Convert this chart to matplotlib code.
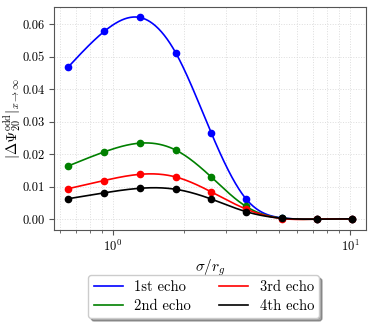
import numpy as np
import matplotlib
matplotlib.use("Agg")
import matplotlib.pyplot as plt

plt.rcParams["font.family"] = "serif"
plt.rcParams["font.serif"] = ["cmr10"]
plt.rcParams["mathtext.fontset"] = "cm"
plt.rcParams["axes.formatter.use_mathtext"] = True

# data
sigma = [0.65, 0.92, 1.3, 1.84, 2.6, 3.65, 5.15, 7.25, 10.2]
echo1 = [0.0469, 0.0578, 0.0621, 0.0513, 0.0266, 0.0062, 0.0004, 0.0000, 0.0001]
echo2 = [0.0164, 0.0207, 0.0234, 0.0213, 0.0130, 0.0039, 0.0003, 0.0000, 0.0001]
echo3 = [0.0094, 0.0119, 0.0138, 0.0130, 0.0084, 0.0031, 0.0002, 0.0000, 0.0001]
echo4 = [0.0063, 0.0081, 0.0095, 0.0092, 0.0062, 0.0023, 0.0003, 0.0000, 0.0001]
labels = ["1st echo", "2nd echo", "3rd echo", "4th echo"]
colors = ["blue", "green", "red", "black"]


def spline(x, y, xs):
    # natural cubic spline, used only to draw the smooth line through the points
    x = np.asarray(x, float)
    y = np.asarray(y, float)
    n = len(x)
    h = np.diff(x)
    A = np.zeros((n, n))
    b = np.zeros(n)
    A[0, 0] = A[-1, -1] = 1
    for i in range(1, n - 1):
        A[i, i - 1] = h[i - 1]
        A[i, i] = 2 * (h[i - 1] + h[i])
        A[i, i + 1] = h[i]
        b[i] = 6 * ((y[i + 1] - y[i]) / h[i] - (y[i] - y[i - 1]) / h[i - 1])
    M = np.linalg.solve(A, b)
    k = np.clip(np.searchsorted(x, xs) - 1, 0, n - 2)
    t1 = x[k + 1] - xs
    t2 = xs - x[k]
    hk = h[k]
    return (M[k] * t1**3 / (6 * hk) + M[k + 1] * t2**3 / (6 * hk)
            + (y[k] / hk - M[k] * hk / 6) * t1 + (y[k + 1] / hk - M[k + 1] * hk / 6) * t2)


fig = plt.figure(figsize=(3.74, 3.27), dpi=100)
ax = fig.add_axes([0.145, 0.298, 0.834, 0.681])

lx = np.log10(sigma)
xs = np.linspace(lx[0], lx[-1], 400)
for ys, lab, c in zip([echo1, echo2, echo3, echo4], labels, colors):
    ax.plot(10**xs, spline(lx, ys, xs), color=c, lw=1.2, label=lab)
    ax.plot(sigma, ys, "o", color=c, ms=4.5)

ax.set_xscale("log")
ax.grid(True, which="both", axis="x", ls=":", color="#dddddd", lw=0.7)
ax.grid(True, which="major", axis="y", ls=":", color="#dddddd", lw=0.7)
ax.set_yticks([0.0, 0.01, 0.02, 0.03, 0.04, 0.05, 0.06])
ax.set_yticklabels(["0.00", "0.01", "0.02", "0.03", "0.04", "0.05", "0.06"])
ax.tick_params(labelsize=9, color="#555555")
ax.tick_params(which="minor", color="#555555")
for s in ax.spines.values():
    s.set_color("#555555")
ax.set_xlabel(r"$\sigma/r_g$", fontsize=11, labelpad=2)
ax.set_ylabel(r"$|\Delta\Psi^{\rm odd}_{20}|_{x\to\infty}$", fontsize=10.5)
ax.yaxis.set_label_coords(-0.1, 0.5)

fig.legend(loc="upper center", bbox_to_anchor=(0.545, 0.18), ncol=2, fontsize=10.5,
           fancybox=True, shadow=True, columnspacing=1.9, handlelength=2.0,
           labelspacing=0.35, borderpad=0.35)

fig.savefig("out.png", dpi=100)
